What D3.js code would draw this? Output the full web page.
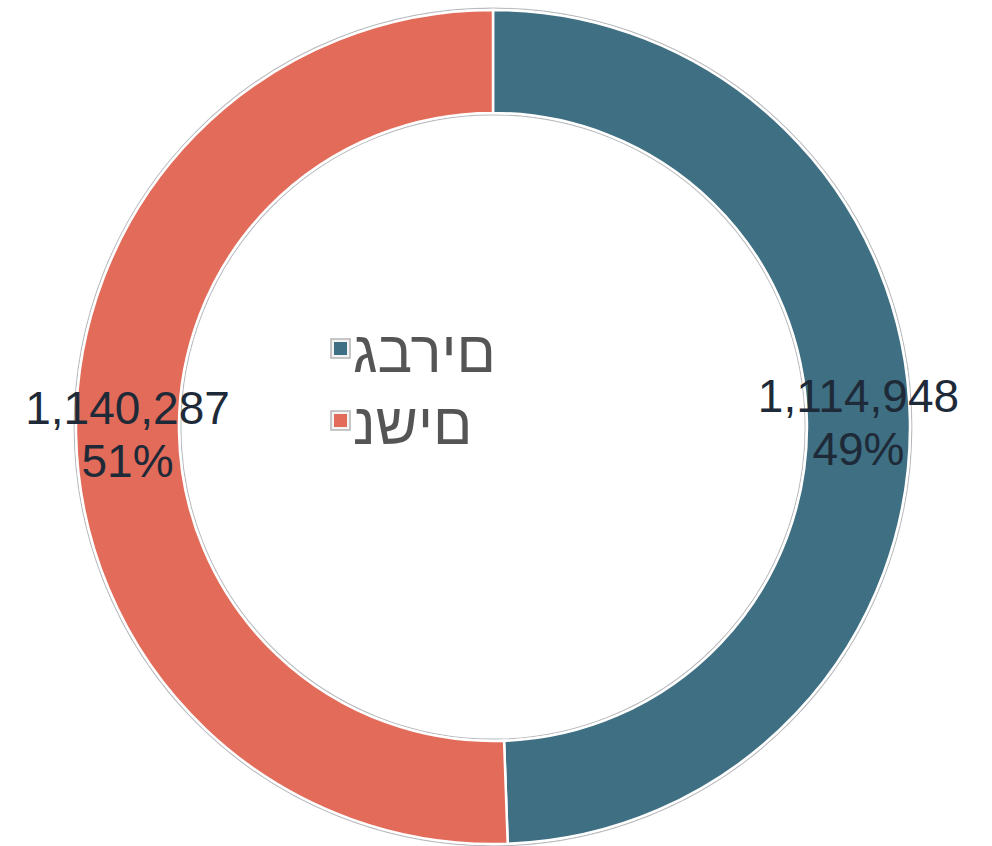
<!DOCTYPE html>
<html>
<head>
<meta charset="utf-8">
<script src="https://cdn.jsdelivr.net/npm/d3@7"></script>
<style>
  html, body { margin: 0; padding: 0; background: #fff; }
  svg { display: block; }
  .legend-text { direction: ltr; unicode-bidi: bidi-override; }
</style>
</head>
<body>
<script>
// Gender split
const categories = ["גברים", "נשים"];
const values = [1114948, 1140287];
const colors = ["#3E6F82", "#E26B5A"];

const W = 992, H = 846;
const cx = 493, cy = 427;
const outerR = 417, innerR = 314;

const svg = d3.select("body").append("svg")
  .attr("width", W).attr("height", H);

const g = svg.append("g").attr("transform", `translate(${cx},${cy})`);

const pie = d3.pie().sort(null).value(d => d);
const arcs = pie(values);
const arc = d3.arc().innerRadius(innerR).outerRadius(outerR);
const total = d3.sum(values);

// Thin grey outline around the ring
g.append("circle").attr("r", outerR + 1.8)
  .attr("fill", "none").attr("stroke", "#b9bcbf").attr("stroke-width", 1.2);
g.append("circle").attr("r", innerR - 1.8)
  .attr("fill", "none").attr("stroke", "#b9bcbf").attr("stroke-width", 1.2);

g.selectAll("path.slice").data(arcs).enter().append("path")
  .attr("class", "slice")
  .attr("d", arc)
  .attr("fill", (d, i) => colors[i])
  .attr("stroke", "#fff")
  .attr("stroke-width", 2.5);

// Value + percentage labels at slice centroids
const fmt = d3.format(",");
const labels = g.selectAll("text.lbl").data(arcs).enter().append("text")
  .attr("class", "lbl")
  .attr("transform", d => `translate(${arc.centroid(d)})`)
  .attr("text-anchor", "middle")
  .attr("font-family", "'Liberation Sans', Arial, sans-serif")
  .attr("font-size", 46)
  .attr("fill", "#1e2a38");
labels.append("tspan").attr("x", 0).attr("dy", -9)
  .text(d => fmt(d.data));
labels.append("tspan").attr("x", 0).attr("dy", 53)
  .text(d => Math.round(d.data / total * 100) + "%");

// Legend in the hole
const legend = svg.append("g").attr("transform", "translate(331,0)");
const rows = legend.selectAll("g").data(categories).enter().append("g")
  .attr("transform", (d, i) => `translate(0,${348 + i * 72})`);
rows.append("rect")
  .attr("x", 0).attr("y", -9).attr("width", 19).attr("height", 19)
  .attr("fill", "#f4f4f4").attr("stroke", "#b5b5b5").attr("stroke-width", 1.5);
rows.append("rect")
  .attr("x", 3).attr("y", -6).attr("width", 13).attr("height", 13)
  .attr("fill", (d, i) => colors[i]);
rows.append("text")
  .attr("class", "legend-text")
  .attr("x", 22).attr("y", 24)
  .attr("font-family", "'Liberation Sans', Arial, sans-serif")
  .attr("font-size", 58)
  .attr("fill", "#555")
  .attr("text-anchor", "start")
  .text(d => d);
</script>
</body>
</html>
